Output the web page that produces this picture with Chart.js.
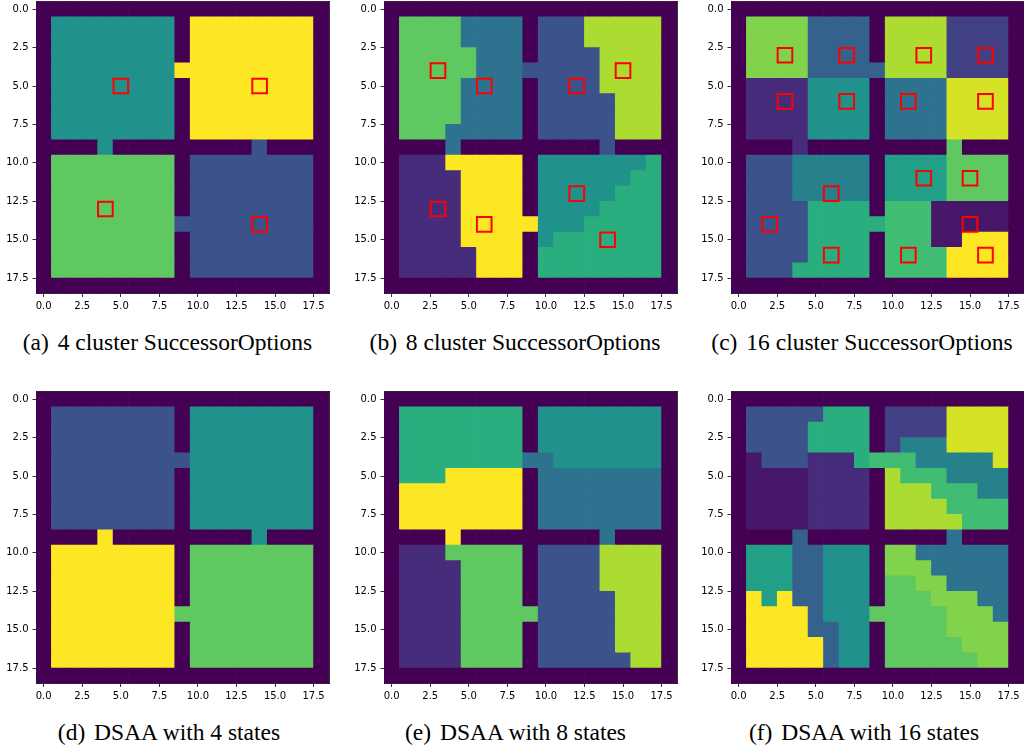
<!DOCTYPE html>
<html>
<head>
<meta charset="utf-8">
<script src="https://cdn.jsdelivr.net/npm/chart.js@4.4.1/dist/chart.umd.min.js"></script>
<style>
  html, body { margin: 0; padding: 0; background: #fff; width: 1024px; height: 746px; overflow: hidden; }
  canvas { position: absolute; }
  .cap { position: absolute; font-family: 'Liberation Serif', 'Times New Roman', serif; font-size: 23.5px;
         color: #000; white-space: pre; line-height: 1; transform: translate(-50%, -50%); }
  .cap .tag { margin-right: 3px; }
</style>
</head>
<body>
<canvas id="pa" width="340" height="320" style="left:0px;top:0px"></canvas>
<canvas id="pb" width="340" height="320" style="left:348px;top:0px"></canvas>
<canvas id="pc" width="340" height="320" style="left:695px;top:0px"></canvas>
<canvas id="pd" width="340" height="320" style="left:0px;top:390px"></canvas>
<canvas id="pe" width="340" height="320" style="left:348px;top:390px"></canvas>
<canvas id="pf" width="340" height="320" style="left:695px;top:390px"></canvas>
<div class="cap" id="ca" style="left:167.5px;top:343px"></div>
<div class="cap" id="cb" style="left:515px;top:343px"></div>
<div class="cap" id="cc" style="left:862px;top:343px"></div>
<div class="cap" id="cd" style="left:169px;top:733px"></div>
<div class="cap" id="ce" style="left:515.5px;top:733px"></div>
<div class="cap" id="cf" style="left:864px;top:733px"></div>
<script>
// Axis ticks shared by every panel
const tickValues = [0, 2.5, 5, 7.5, 10, 12.5, 15, 17.5];
const tickLabels = ['0.0', '2.5', '5.0', '7.5', '10.0', '12.5', '15.0', '17.5'];

// Sub-figure captions
const captionTags = ['(a)', '(b)', '(c)', '(d)', '(e)', '(f)'];
const captionTexts = [
  '4 cluster SuccessorOptions', '8 cluster SuccessorOptions', '16 cluster SuccessorOptions',
  'DSAA with 4 states', 'DSAA with 8 states', 'DSAA with 16 states'
];

// Number of clusters / abstract states in each panel (0 = wall)
const clusterCounts = [4, 8, 16, 4, 8, 16];

// Cluster label of every cell of the 19x19 four-room grid, one string per row
// (base-17 digits: 0 = wall, 1..g = cluster index)
const gridA = [
  "0000000000000000000",
  "0222222220444444440",
  "0222222220444444440",
  "0222222220444444440",
  "0222222224444444440",
  "0222222220444444440",
  "0222222220444444440",
  "0222222220444444440",
  "0222222220444444440",
  "0000200000000010000",
  "0333333330111111110",
  "0333333330111111110",
  "0333333330111111110",
  "0333333330111111110",
  "0333333331111111110",
  "0333333330111111110",
  "0333333330111111110",
  "0333333330111111110",
  "0000000000000000000"
];
const gridB = [
  "0000000000000000000",
  "0666633330222777770",
  "0666633330222777770",
  "0666663330222277770",
  "0666663332222277770",
  "0666633330222277770",
  "0666633330222227770",
  "0666633330222227770",
  "0666333330222227770",
  "0000300000000020000",
  "0111888880444444450",
  "0111188880444444550",
  "0111188880444445550",
  "0111188880444455550",
  "0111188888444555550",
  "0111188880455555550",
  "0111118880555555550",
  "0111118880555555550",
  "0000000000000000000"
];
const gridC = [
  "0000000000000000000",
  "0dddd55550eeee33330",
  "0dddd55550eeee33330",
  "0dddd55550eeee33330",
  "0dddd55555eeee33330",
  "02222888806666ffff0",
  "02222888806666ffff0",
  "02222888806666ffff0",
  "02222888806666ffff0",
  "00002000000000c0000",
  "04447777709999cccc0",
  "04447777709999cccc0",
  "04447777709999cccc0",
  "04444aaaa0bbb111110",
  "04444aaaaabbb111110",
  "04444aaaa0bbb11ggg0",
  "04444aaaa0bbbbgggg0",
  "0444aaaaa0bbbbgggg0",
  "0000000000000000000"
];
const gridD = [
  "0000000000000000000",
  "0111111110222222220",
  "0111111110222222220",
  "0111111110222222220",
  "0111111111222222220",
  "0111111110222222220",
  "0111111110222222220",
  "0111111110222222220",
  "0111111110222222220",
  "0000400000000020000",
  "0444444440333333330",
  "0444444440333333330",
  "0444444440333333330",
  "0444444440333333330",
  "0444444443333333330",
  "0444444440333333330",
  "0444444440333333330",
  "0444444440333333330",
  "0000000000000000000"
];
const gridE = [
  "0000000000000000000",
  "0555555550444444440",
  "0555555550444444440",
  "0555555550444444440",
  "0555555553344444440",
  "0555888880333333330",
  "0888888880333333330",
  "0888888880333333330",
  "0888888880333333330",
  "0000800000000030000",
  "0111666660222277770",
  "0111166660222277770",
  "0111166660222277770",
  "0111166660222227770",
  "0111166666222227770",
  "0111166660222227770",
  "0111166660222227770",
  "0111166660222222770",
  "0000000000000000000"
];
const gridF = [
  "0000000000000000000",
  "044444aaa03333ffff0",
  "04444aaaa03333ffff0",
  "04444aaaa03777ffff0",
  "01444222abbb77777f0",
  "0111122220ebbb77770",
  "0111122220eeebbb770",
  "0111122220eeeebbbb0",
  "0111122220eeeeebbb0",
  "0000500000000060000",
  "0999558880dd6666660",
  "0999558880ddd666660",
  "0999558880ccdd66660",
  "0g9g558880cccddd660",
  "0gggg5888cccccddd60",
  "0gggg55880ccccdddd0",
  "0ggggg5880cccccddd0",
  "0ggggg5880ccccccdd0",
  "0000000000000000000"
];

// Subgoal states marked with red squares, [column, row]
const subgoalsA = [[5, 5], [14, 5], [4, 13], [14, 14]];
const subgoalsB = [[3, 4], [6, 5], [12, 5], [15, 4], [3, 13], [6, 14], [12, 12], [14, 15]];
const subgoalsC = [[3, 3], [7, 3], [12, 3], [16, 3], [3, 6], [7, 6], [11, 6], [16, 6],
                   [6, 12], [12, 11], [15, 11], [2, 14], [15, 14], [6, 16], [11, 16], [16, 16]];

// viridis colormap, sampled every 0.1
const VIRIDIS = ['#440154', '#482475', '#414487', '#355f8d', '#2a788e', '#21918c',
                 '#22a884', '#44bf70', '#7ad151', '#bddf26', '#fde725'];
function hexRgb(h) { return [1, 3, 5].map(i => parseInt(h.slice(i, i + 2), 16)); }
function viridis(t) {
  const n = VIRIDIS.length - 1;
  const p = Math.max(0, Math.min(1, t)) * n;
  const i = Math.min(n - 1, Math.floor(p));
  const f = p - i;
  const a = hexRgb(VIRIDIS[i]), b = hexRgb(VIRIDIS[i + 1]);
  const c = a.map((v, k) => Math.round(v + (b[k] - v) * f));
  return `rgb(${c[0]},${c[1]},${c[2]})`;
}

const AXIS_W = 36, PLOT = 293, CANVAS_W = 340, CANVAS_H = 320, TOP_PAD = 1.5, PLOT_H = 292;

function cellSide(chart) {
  const s = chart.scales.x;
  return Math.abs(s.getPixelForValue(1) - s.getPixelForValue(0));
}

function axis(pos) {
  const horizontal = pos === 'bottom' || pos === 'top';
  const main = pos === 'bottom' || pos === 'left';
  return {
    type: 'linear', position: pos, min: -0.5, max: 18.5,
    reverse: !horizontal,
    afterBuildTicks: s => { s.ticks = tickValues.map(v => ({ value: v })); },
    afterFit: s => {
      if (horizontal) { s.height = main ? CANVAS_H - TOP_PAD - PLOT_H : 0; s.paddingLeft = 0; s.paddingRight = 0; }
      else { s.width = main ? AXIS_W : 0; s.paddingTop = 0; s.paddingBottom = 0; }
    },
    ticks: {
      display: main,
      padding: horizontal ? 3 : 4,
      color: '#000',
      font: { family: 'DejaVu Sans', size: 10 },
      maxRotation: 0, autoSkip: false,
      callback: v => tickLabels[tickValues.indexOf(v)]
    },
    grid: { display: main, drawOnChartArea: false, drawTicks: true, tickLength: 3.5, tickColor: '#000', tickWidth: 0.8 },
    border: { display: true, color: '#000', width: 0.8 }
  };
}

function buildPanel(id, grid, clusters, marks) {
  const cells = [];
  grid.forEach((row, r) => {
    [...row].forEach((ch, c) => cells.push({ x: c, y: r, v: parseInt(ch, 17) }));
  });
  new Chart(document.getElementById(id), {
    type: 'scatter',
    data: {
      datasets: [
        {
          label: 'subgoals', order: 0,
          data: (marks || []).map(([x, y]) => ({ x, y })),
          pointStyle: 'rect',
          pointBackgroundColor: 'rgba(0,0,0,0)',
          pointBorderColor: '#ff0000',
          pointBorderWidth: 2,
          pointRadius: ctx => cellSide(ctx.chart) * 0.95 / Math.SQRT2,
          pointHoverRadius: ctx => cellSide(ctx.chart) * 0.95 / Math.SQRT2
        },
        {
          label: 'clusters', order: 1,
          data: cells,
          pointStyle: 'rect',
          pointBackgroundColor: ctx => ctx.raw ? viridis(ctx.raw.v / clusters) : '#000',
          pointBorderWidth: 0,
          pointRadius: ctx => (cellSide(ctx.chart) + 0.7) / Math.SQRT2,
          pointHoverRadius: ctx => (cellSide(ctx.chart) + 0.7) / Math.SQRT2
        }
      ]
    },
    options: {
      responsive: false, animation: false, events: [],
      layout: { padding: { left: 0, top: TOP_PAD, right: CANVAS_W - AXIS_W - PLOT, bottom: 0 } },
      plugins: { legend: { display: false }, tooltip: { enabled: false }, title: { display: false } },
      scales: { x: axis('bottom'), y: axis('left'), x2: axis('top'), y2: axis('right') }
    }
  });
}

const panelIds = ['pa', 'pb', 'pc', 'pd', 'pe', 'pf'];
const grids = [gridA, gridB, gridC, gridD, gridE, gridF];
const subgoals = [subgoalsA, subgoalsB, subgoalsC, null, null, null];
panelIds.forEach((id, i) => buildPanel(id, grids[i], clusterCounts[i], subgoals[i]));

['ca', 'cb', 'cc', 'cd', 'ce', 'cf'].forEach((id, i) => {
  const el = document.getElementById(id);
  const tag = document.createElement('span');
  tag.className = 'tag';
  tag.textContent = captionTags[i];
  el.appendChild(tag);
  el.appendChild(document.createTextNode(' ' + captionTexts[i]));
});
</script>
</body>
</html>
